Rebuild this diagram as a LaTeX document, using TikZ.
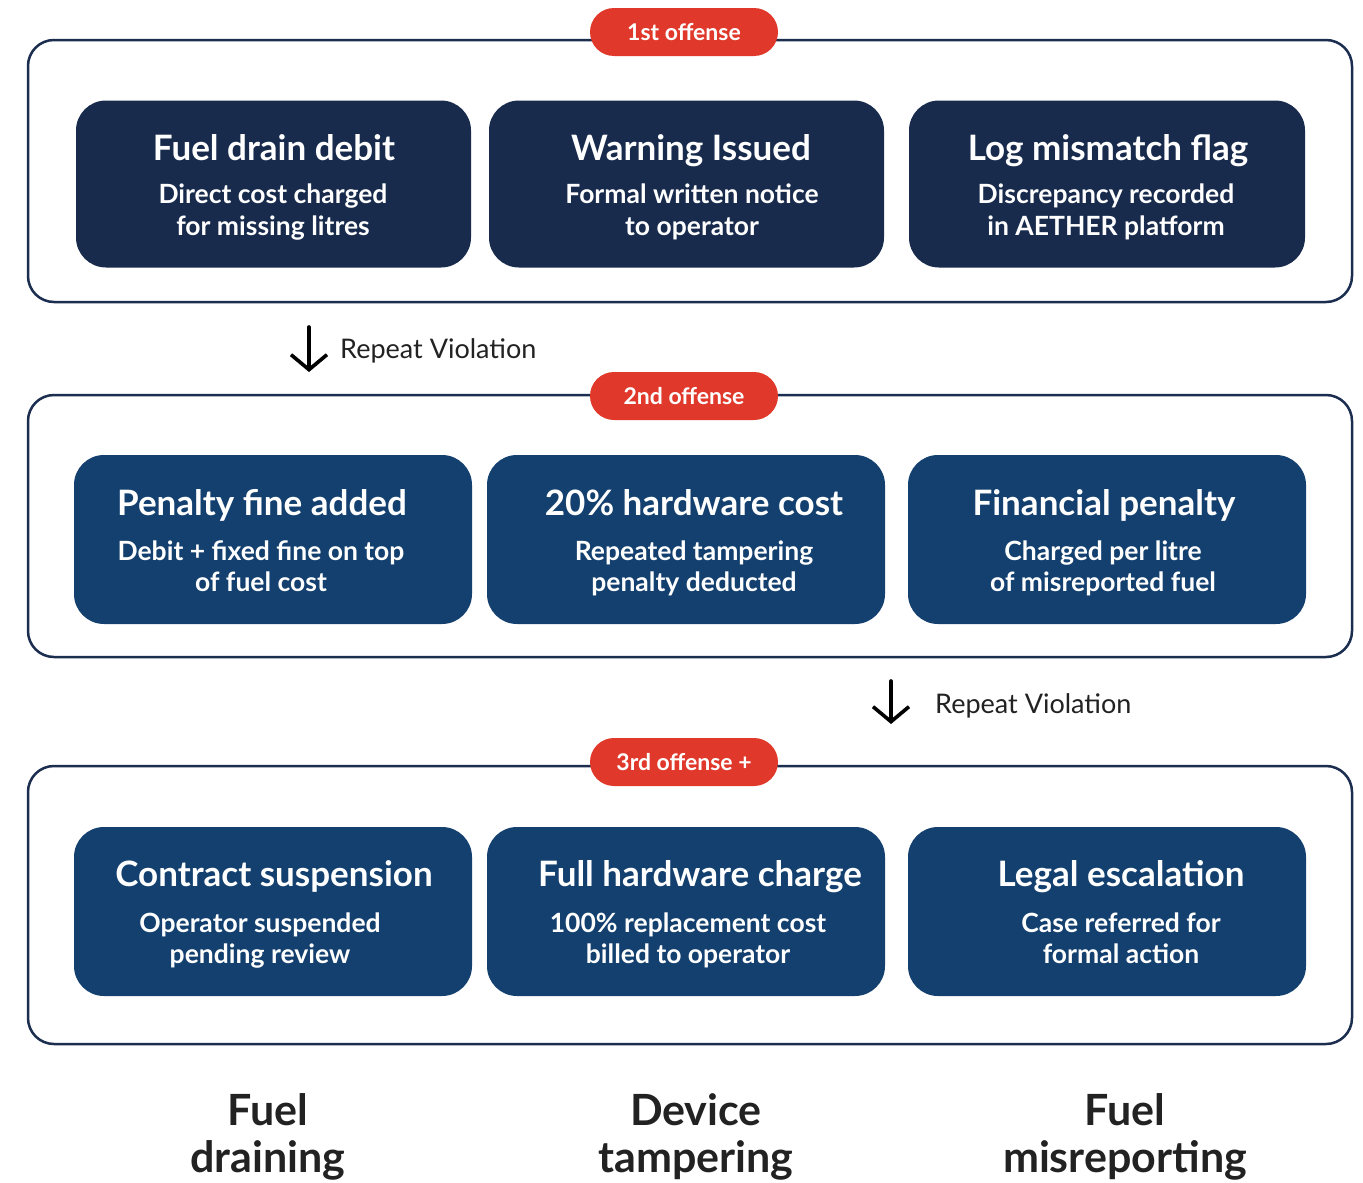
\documentclass[tikz,border=0pt]{standalone}
\usepackage{fontspec}
\setmainfont{Lato}
\usetikzlibrary{arrows.meta}
\definecolor{navyA}{HTML}{182B4D}
\definecolor{navyB}{HTML}{13406E}
\definecolor{badgered}{HTML}{E0392B}
\definecolor{outline}{HTML}{1C2E50}
\definecolor{txt}{HTML}{222222}
\begin{document}
\begin{tikzpicture}[x=1pt,y=-1pt,
  panel/.style={draw=outline, line width=2.5pt, rounded corners=26pt, fill=white, inner sep=0pt},
  card/.style={fill=#1, rounded corners=30pt, inner sep=0pt, minimum height=167pt},
  ttl/.style={text=white, font=\bfseries\fontsize{35}{40}\selectfont, inner sep=0pt, anchor=base},
  sub/.style={text=white, font=\bfseries\fontsize{26.5}{32}\selectfont, inner sep=0pt, anchor=base},
  badge/.style={fill=badgered, text=white, rounded corners=24pt, minimum width=188pt, minimum height=48pt, inner sep=0pt, font=\bfseries\fontsize{23}{26}\selectfont},
  rep/.style={text=txt, font=\fontsize{27}{30}\selectfont, inner sep=0pt, anchor=west},
  cat/.style={text=txt, font=\bfseries\fontsize{43}{50}\selectfont, inner sep=0pt, anchor=base},
  downarrow/.style={draw=black, line width=3.6pt, line cap=round, -{Straight Barb[length=15pt,width=36pt]}}
]
\useasboundingbox[fill=white] (0,0) rectangle (1363,1183);

% panels
\node[panel, minimum width=1324pt, minimum height=262pt] (p1) at (690,171) {};
\node[panel, minimum width=1324pt, minimum height=262pt] (p2) at (690,526) {};
\node[panel, minimum width=1324pt, minimum height=278pt] (p3) at (690,905) {};

% badges
\node[badge] (b1) at (684,32) {1st offense};
\node[badge] (b2) at (684,396) {2nd offense};
\node[badge] (b3) at (684,762) {3rd offense +};

% row 1
\node[card=navyA, minimum width=395pt] (c11) at (273.5,184) {};
\node[card=navyA, minimum width=395pt] (c12) at (686.5,184) {};
\node[card=navyA, minimum width=396pt] (c13) at (1107,184) {};
\node[ttl] (t11) at (274,160) {Fuel drain debit};
\node[ttl] (t12) at (691,160) {Warning Issued};
\node[ttl] (t13) at (1108,160) {Log mismatch flag};
\node[sub] (s11a) at (273,203) {Direct cost charged};
\node[sub] (s11b) at (273,235) {for missing litres};
\node[sub] (s12a) at (692,203) {Formal written notice};
\node[sub] (s12b) at (692,235) {to operator};
\node[sub] (s13a) at (1106,203) {Discrepancy recorded};
\node[sub] (s13b) at (1106,235) {in AETHER platform};

% row 2
\node[card=navyB, minimum width=398pt, minimum height=169pt] (c21) at (273,539.5) {};
\node[card=navyB, minimum width=398pt, minimum height=169pt] (c22) at (686,539.5) {};
\node[card=navyB, minimum width=398pt, minimum height=169pt] (c23) at (1107,539.5) {};
\node[ttl] (t21) at (262,515) {Penalty fine added};
\node[ttl] (t22) at (694,515) {20\% hardware cost};
\node[ttl] (t23) at (1104,515) {Financial penalty};
\node[sub] (s21a) at (261,560) {Debit + fixed fine on top};
\node[sub] (s21b) at (261,591) {of fuel cost};
\node[sub] (s22a) at (694,560) {Repeated tampering};
\node[sub] (s22b) at (694,591) {penalty deducted};
\node[sub] (s23a) at (1103,560) {Charged per litre};
\node[sub] (s23b) at (1103,591) {of misreported fuel};

% row 3
\node[card=navyB, minimum width=398pt, minimum height=169pt] (c31) at (273,911.5) {};
\node[card=navyB, minimum width=398pt, minimum height=169pt] (c32) at (686,911.5) {};
\node[card=navyB, minimum width=398pt, minimum height=169pt] (c33) at (1107,911.5) {};
\node[ttl] (t31) at (274,886) {Contract suspension};
\node[ttl] (t32) at (700,886) {Full hardware charge};
\node[ttl] (t33) at (1121,886) {Legal escalation};
\node[sub] (s31a) at (260,932) {Operator suspended};
\node[sub] (s31b) at (260,963) {pending review};
\node[sub] (s32a) at (688,932) {100\% replacement cost};
\node[sub] (s32b) at (688,963) {billed to operator};
\node[sub] (s33a) at (1121,932) {Case referred for};
\node[sub] (s33b) at (1121,963) {formal action};

% repeat violation arrows
\coordinate (a1s) at (309,327);
\coordinate (a1e) at (309,372);
\draw[downarrow] (a1s) -- (a1e);
\node[rep] (r1) at (340,351) {Repeat Violation};
\coordinate (a2s) at (891,681);
\coordinate (a2e) at (891,724);
\draw[downarrow] (a2s) -- (a2e);
\node[rep] (r2) at (935,706) {Repeat Violation};

% categories
\node[cat] (k1a) at (268,1125) {Fuel};
\node[cat] (k1b) at (268,1172) {draining};
\node[cat] (k2a) at (696,1125) {Device};
\node[cat] (k2b) at (696,1172) {tampering};
\node[cat] (k3a) at (1125,1125) {Fuel};
\node[cat] (k3b) at (1125,1172) {misreporting};
\end{tikzpicture}
\end{document}
